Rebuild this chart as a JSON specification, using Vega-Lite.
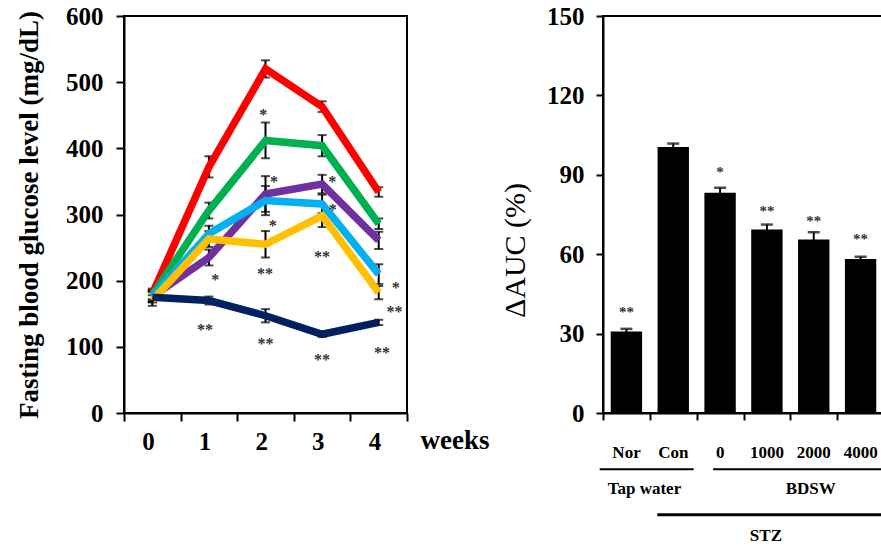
{
  "$schema": "https://vega.github.io/schema/vega-lite/v6.json",
  "padding": {"left": 14, "top": 3, "right": 0, "bottom": 0},
  "bounds": "flush",
  "spacing": 196,
  "background": "white",
  "datasets": {
    "glucose": [
      {"group": "Con", "week": 0, "value": 180, "sem": 8},
      {"group": "Con", "week": 1, "value": 372, "sem": 16},
      {"group": "Con", "week": 2, "value": 520, "sem": 13},
      {"group": "Con", "week": 3, "value": 463, "sem": 8},
      {"group": "Con", "week": 4, "value": 334, "sem": 7},
      {"group": "BDSW 0", "week": 0, "value": 178, "sem": 8},
      {"group": "BDSW 0", "week": 1, "value": 306, "sem": 12},
      {"group": "BDSW 0", "week": 2, "value": 412, "sem": 27},
      {"group": "BDSW 0", "week": 3, "value": 404, "sem": 16},
      {"group": "BDSW 0", "week": 4, "value": 286, "sem": 8},
      {"group": "BDSW 1000", "week": 0, "value": 176, "sem": 8},
      {"group": "BDSW 1000", "week": 1, "value": 235, "sem": 12},
      {"group": "BDSW 1000", "week": 2, "value": 331, "sem": 27},
      {"group": "BDSW 1000", "week": 3, "value": 346, "sem": 14},
      {"group": "BDSW 1000", "week": 4, "value": 261, "sem": 13},
      {"group": "BDSW 2000", "week": 0, "value": 176, "sem": 8},
      {"group": "BDSW 2000", "week": 1, "value": 271, "sem": 12},
      {"group": "BDSW 2000", "week": 2, "value": 321, "sem": 22},
      {"group": "BDSW 2000", "week": 3, "value": 316, "sem": 14},
      {"group": "BDSW 2000", "week": 4, "value": 210, "sem": 15},
      {"group": "BDSW 4000", "week": 0, "value": 170, "sem": 8},
      {"group": "BDSW 4000", "week": 1, "value": 263, "sem": 12},
      {"group": "BDSW 4000", "week": 2, "value": 255, "sem": 20},
      {"group": "BDSW 4000", "week": 3, "value": 298, "sem": 17},
      {"group": "BDSW 4000", "week": 4, "value": 182, "sem": 10},
      {"group": "Nor", "week": 0, "value": 175, "sem": 8},
      {"group": "Nor", "week": 1, "value": 170, "sem": 6},
      {"group": "Nor", "week": 2, "value": 147, "sem": 10},
      {"group": "Nor", "week": 3, "value": 119, "sem": 4},
      {"group": "Nor", "week": 4, "value": 137, "sem": 4}
    ],
    "glucoseStars": [
      {"week": 1.96, "value": 455, "label": "*"},
      {"week": 2.15, "value": 353, "label": "*"},
      {"week": 2.13, "value": 287, "label": "*"},
      {"week": 1.99, "value": 215, "label": "**"},
      {"week": 1.11, "value": 206, "label": "*"},
      {"week": 0.93, "value": 129.5, "label": "**"},
      {"week": 2.0, "value": 109, "label": "**"},
      {"week": 3.18, "value": 353, "label": "*"},
      {"week": 3.19, "value": 311, "label": "*"},
      {"week": 3.0, "value": 240.5, "label": "**"},
      {"week": 3.0, "value": 84, "label": "**"},
      {"week": 4.3, "value": 194, "label": "*"},
      {"week": 4.28, "value": 157, "label": "**"},
      {"week": 4.06, "value": 95, "label": "**"}
    ],
    "auc": [
      {"cat": "Nor", "value": 30.8, "sem": 1.0},
      {"cat": "Con", "value": 100.5, "sem": 1.3},
      {"cat": "0", "value": 83.2, "sem": 1.9},
      {"cat": "1000", "value": 69.3, "sem": 1.9},
      {"cat": "2000", "value": 65.6, "sem": 2.7},
      {"cat": "4000", "value": 58.2, "sem": 0.8}
    ],
    "aucStars": [
      {"cat": "Nor", "value": 39.2, "label": "**"},
      {"cat": "0", "value": 92.1, "label": "*"},
      {"cat": "1000", "value": 77.5, "label": "**"},
      {"cat": "2000", "value": 73.7, "label": "**"},
      {"cat": "4000", "value": 67.0, "label": "**"}
    ]
  },
  "hconcat": [
    {
      "width": 283,
      "height": 397,
      "encoding": {
        "x": {
          "field": "week", "type": "quantitative",
          "scale": {"domain": [-0.5, 4.5], "nice": false, "zero": false},
          "axis": {
            "values": [-0.5, 0.5, 1.5, 2.5, 3.5, 4.5],
            "labelExpr": "datum.value < 4 ? format(datum.value + 0.5, 'd') : ''",
            "labelOffset": 24,
            "labelFlush": false,
            "labelOverlap": false,
            "labelPadding": 8,
            "labelBaseline": "top",
            "title": "weeks",
            "titleFontSize": 27,
            "titleFontWeight": "bold",
            "titleAlign": "left",
            "titleBaseline": "alphabetic",
            "titleX": 296,
            "titleY": 35
          }
        },
        "y": {
          "field": "value", "type": "quantitative",
          "scale": {"domain": [0, 600], "nice": false},
          "axis": {
            "values": [0, 100, 200, 300, 400, 500, 600],
            "labelPadding": 13,
            "title": "Fasting blood glucose level (mg/dL)",
            "titleFontSize": 27,
            "titleFontWeight": "bold",
            "titlePadding": 22
          }
        }
      },
      "layer": [
        {
          "data": {"name": "glucose"},
          "mark": {"type": "errorbar", "color": "black", "thickness": 2, "ticks": {"size": 9, "thickness": 2, "color": "black"}},
          "encoding": {
            "yError": {"field": "sem"},
            "detail": {"field": "group"}
          }
        },
        {
          "data": {"name": "glucose"},
          "mark": {"type": "line", "strokeWidth": 7.5},
          "encoding": {
            "color": {
              "field": "group", "type": "nominal",
              "scale": {
                "domain": ["Con", "BDSW 0", "BDSW 1000", "BDSW 2000", "BDSW 4000", "Nor"],
                "range": ["#FF0000", "#00B050", "#7030A0", "#00B0F0", "#FFC000", "#002060"]
              },
              "legend": null
            }
          }
        },
        {
          "data": {"name": "glucoseStars"},
          "mark": {"type": "text", "font": "Liberation Serif", "fontSize": 16, "fontWeight": "bold", "fill": "#333333", "baseline": "middle", "dy": 3},
          "encoding": {
            "text": {"field": "label"}
          }
        }
      ]
    },
    {
      "width": 281,
      "height": 397,
      "encoding": {
        "x": {
          "field": "cat", "type": "nominal", "sort": null,
          "scale": {"domain": ["Nor", "Con", "0", "1000", "2000", "4000"], "paddingInner": 0.33, "paddingOuter": 0.165},
          "axis": {
            "title": null,
            "labelAngle": 0,
            "tickOffset": -23.4,
            "labelOffset": 23,
            "labelFontSize": 17,
            "labelPadding": 24,
            "tickSize": 7
          }
        },
        "y": {
          "field": "value", "type": "quantitative",
          "scale": {"domain": [0, 150], "nice": false},
          "axis": {
            "values": [0, 30, 60, 90, 120, 150],
            "labelPadding": 12,
            "tickSize": 7,
            "title": "ΔAUC (%)",
            "titleFontSize": 30,
            "titleFontWeight": "normal",
            "titlePadding": 16,
            "titleY": 234
          }
        }
      },
      "layer": [
        {
          "data": {"name": "auc"},
          "mark": {"type": "errorbar", "color": "black", "thickness": 2, "ticks": {"size": 12, "thickness": 2.5, "color": "black"}},
          "encoding": {"yError": {"field": "sem"}}
        },
        {
          "data": {"name": "auc"},
          "mark": {"type": "bar", "color": "black"}
        },
        {
          "data": {"name": "aucStars"},
          "mark": {"type": "text", "font": "Liberation Serif", "fontSize": 15, "fontWeight": "bold", "fill": "#333333", "baseline": "middle", "dy": 3},
          "encoding": {"text": {"field": "label"}}
        },
        {
          "data": {"values": [{"cat": "Nor", "cat2": "Con", "value": -21.3}]},
          "mark": {"type": "rule", "color": "black", "strokeWidth": 2, "xOffset": -26.7, "x2Offset": 20.4},
          "encoding": {"x2": {"field": "cat2"}}
        },
        {
          "data": {"values": [{"cat": "0", "cat2": "4000", "value": -21.3}]},
          "mark": {"type": "rule", "color": "black", "strokeWidth": 2, "xOffset": -7, "x2Offset": 40},
          "encoding": {"x2": {"field": "cat2"}}
        },
        {
          "data": {"values": [{"cat": "Con", "cat2": "4000", "value": -38.4}]},
          "mark": {"type": "rule", "color": "black", "strokeWidth": 3, "xOffset": -16, "x2Offset": 40},
          "encoding": {"x2": {"field": "cat2"}}
        },
        {
          "data": {"values": [{"cat": "Nor", "value": -30.7, "label": "Tap water"}]},
          "mark": {"type": "text", "font": "Liberation Serif", "fontWeight": "bold", "fontSize": 17, "color": "black", "baseline": "alphabetic", "dx": 18},
          "encoding": {"text": {"field": "label"}}
        },
        {
          "data": {"values": [{"cat": "2000", "value": -30.7, "label": "BDSW"}]},
          "mark": {"type": "text", "font": "Liberation Serif", "fontWeight": "bold", "fontSize": 17, "color": "black", "baseline": "alphabetic", "dx": -3},
          "encoding": {"text": {"field": "label"}}
        },
        {
          "data": {"values": [{"cat": "1000", "value": -48.5, "label": "STZ"}]},
          "mark": {"type": "text", "font": "Liberation Serif", "fontWeight": "bold", "fontSize": 17, "color": "black", "baseline": "alphabetic", "dx": -1},
          "encoding": {"text": {"field": "label"}}
        }
      ]
    }
  ],
  "config": {
    "font": "Liberation Serif",
    "view": {"stroke": "black", "strokeWidth": 2},
    "axis": {
      "grid": false,
      "domainColor": "black",
      "domainWidth": 2,
      "tickColor": "black",
      "tickWidth": 2,
      "tickSize": 8,
      "labelFont": "Liberation Serif",
      "labelFontWeight": "bold",
      "labelFontSize": 25,
      "labelColor": "black",
      "titleFont": "Liberation Serif",
      "titleColor": "black"
    }
  }
}
